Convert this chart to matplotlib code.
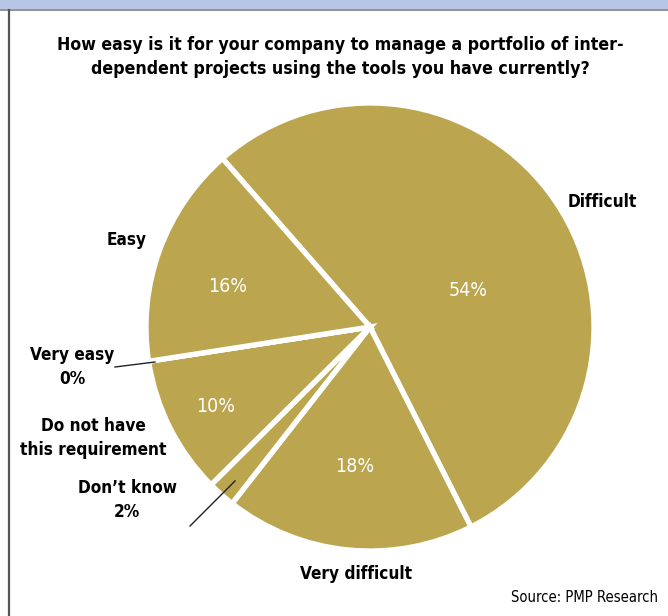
import matplotlib
matplotlib.use("Agg")
import matplotlib.pyplot as plt
from matplotlib.patches import Rectangle
from matplotlib.lines import Line2D

plt.rcParams['font.family'] = ['Liberation Sans Narrow', 'DejaVu Sans']
plt.rcParams['font.stretch'] = 'condensed'

# Survey answers, in clockwise order starting from the upper-left edge
categories = ["Difficult", "Very difficult", "Don\u2019t know",
              "Do not have\nthis requirement", "Very easy", "Easy"]
shares = [54, 18, 2, 10, 0, 16]

title = ("How easy is it for your company to manage a portfolio of inter-\n"
         "dependent projects using the tools you have currently?")
source = "Source: PMP Research"

W, H = 668, 616
fig = plt.figure(figsize=(W / 100, H / 100), dpi=100)
ax = fig.add_axes([0, 0, 1, 1])

gold = '#BBA64F'
cx, cy, r = 370, H - 327, 224

wedges, _ = ax.pie(shares, startangle=131.2, counterclock=False,
                   colors=[gold] * len(shares), center=(cx, cy), radius=r,
                   wedgeprops=dict(edgecolor='white', linewidth=3.8),
                   frame=True)
ax.set_xlim(0, W)
ax.set_ylim(0, H)
ax.set_aspect('equal')
ax.axis('off')

# Header band and left rule
ax.add_patch(Rectangle((0, H - 9), W, 9, facecolor='#B7C6E4', edgecolor='none'))
ax.add_line(Line2D([0, W], [H - 9.5, H - 9.5], color='#808080', lw=1.2))
ax.add_line(Line2D([8.5, 8.5], [0, H - 9.5], color='#555555', lw=1.6))

ax.text(340, H - 57, title, ha='center', va='center', fontsize=12.7,
        fontweight='bold', linespacing=1.45)

pct = [f"{v}%" for v in shares]
bold = dict(fontsize=12.3, fontweight='bold', color='black')
white = dict(fontsize=14, color='white', ha='center', va='center',
             fontweight='medium')

# In-slice values
ax.text(468, H - 290, pct[0], **white)
ax.text(355, H - 467, pct[1], **white)
ax.text(216, H - 406, pct[3], **white)
ax.text(228, H - 286, pct[5], **white)

# Outside labels
ax.text(602, H - 202, categories[0], ha='center', va='center', **bold)
ax.text(356, H - 574, categories[1], ha='center', va='center', **bold)
ax.text(127, H - 500, categories[2] + "\n" + pct[2], ha='center', va='center',
        linespacing=1.45, **bold)
ax.text(93, H - 438, categories[3], ha='center', va='center',
        linespacing=1.45, **bold)
ax.text(72, H - 367, categories[4] + "\n" + pct[4], ha='center', va='center',
        linespacing=1.45, **bold)
ax.text(127, H - 240, categories[5], ha='center', va='center', **bold)

# Leader lines
ax.add_line(Line2D([115, 155], [H - 367, H - 362], color='#222222', lw=1))
ax.add_line(Line2D([190, 235], [H - 526, H - 481], color='#222222', lw=1))

ax.text(658, H - 597, source, ha='right', va='center', fontsize=10.6)

fig.savefig('out.png', dpi=100)
